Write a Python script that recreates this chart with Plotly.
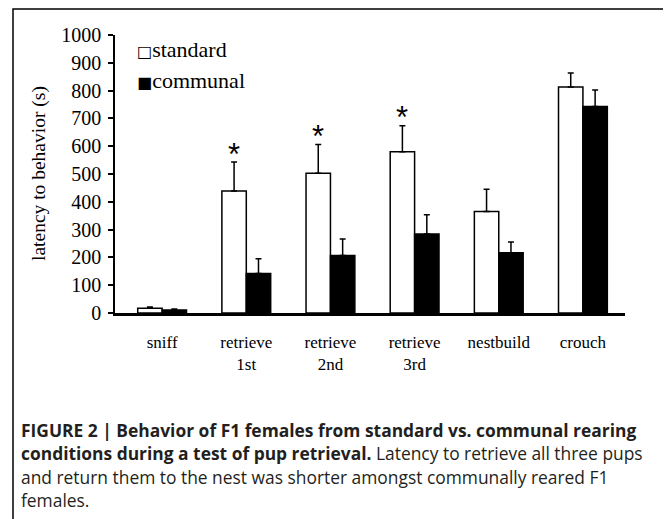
import plotly.graph_objects as go

categories = ["sniff", "retrieve<br>1st", "retrieve<br>2nd", "retrieve<br>3rd", "nestbuild", "crouch"]
standard = [17, 439, 503, 580, 365, 813]
standard_err = [5, 104, 103, 94, 80, 50]
communal = [11, 142, 207, 284, 217, 743]
communal_err = [3, 53, 59, 69, 38, 59]
significant = [False, True, True, True, False, False]
y_ticks = [0, 100, 200, 300, 400, 500, 600, 700, 800, 900, 1000]
series_names = ["standard", "communal"]
legend_glyphs = ["\u25a1", "\u25a0"]

caption_lines = [
    "<b>FIGURE 2 | Behavior of F1 females from standard vs. communal rearing</b>",
    "<b>conditions during a test of pup retrieval.</b> Latency to retrieve all three pups",
    "and return them to the nest was shorter amongst communally reared F1",
    "females.",
]

# page has an 8px body margin, so the figure is drawn at (8, 8) in the window
OFF = 8
W, H = 671 - OFF, 519 - OFF
L, R, T, B = 115 - OFF, 46, 35 - OFF, 206
PW, PH = W - L - R, H - T - B


def px_x(x):  # window pixel -> paper coordinate
    return (x - OFF - L) / PW


def px_y(y):
    return (H - B - (y - OFF)) / PH


serif = "Liberation Serif, Times New Roman, serif"
xs = list(range(len(categories)))

fig = go.Figure()
fig.add_trace(go.Bar(
    x=xs, y=standard, name=series_names[0],
    marker=dict(color="white", line=dict(color="black", width=1.5)),
    error_y=dict(type="data", array=standard_err, arrayminus=[0] * len(xs), symmetric=False,
                 color="black", thickness=1.5, width=3),
))
fig.add_trace(go.Bar(
    x=xs, y=communal, name=series_names[1],
    marker=dict(color="black", line=dict(color="black", width=1.5)),
    error_y=dict(type="data", array=communal_err, arrayminus=[0] * len(xs), symmetric=False,
                 color="black", thickness=1.5, width=3),
))

bargap = 0.42
annotations = []
for i, sig in enumerate(significant):
    if sig:
        annotations.append(dict(
            x=i - (1 - bargap) / 4, y=standard[i] + standard_err[i], xref="x", yref="y",
            text="*", showarrow=False, yanchor="middle", yshift=8,
            font=dict(family="Liberation Sans, Arial, sans-serif", size=31, color="black"),
        ))

# legend drawn as text, like the original
for name, glyph, yy in zip(series_names, legend_glyphs, [49, 80]):
    annotations.append(dict(
        x=px_x(135), y=px_y(yy), xref="paper", yref="paper",
        text='<span style="font-family:DejaVu Sans;font-size:16px">' + glyph + "</span>" + name,
        showarrow=False, xanchor="left", yanchor="middle",
        font=dict(family=serif, size=22, color="black"),
    ))

annotations.append(dict(
    x=px_x(39), y=0.5, xref="paper", yref="paper", text="latency to behavior (s)",
    textangle=-90, showarrow=False, xanchor="center", yanchor="middle",
    font=dict(family=serif, size=19.5, color="black"),
))

cap_y = [430, 453, 477, 500]
for line, yy in zip(caption_lines, cap_y):
    annotations.append(dict(
        x=px_x(19), y=px_y(yy), xref="paper", yref="paper", text=line,
        showarrow=False, xanchor="left", yanchor="middle", align="left",
        font=dict(family="Open Sans, Roboto, sans-serif", size=17.4, color="#231f20"),
    ))

shapes = [dict(
    type="rect", xref="paper", yref="paper",
    x0=px_x(13), x1=px_x(668), y0=px_y(540), y1=px_y(9),
    line=dict(color="black", width=1.5), fillcolor="rgba(0,0,0,0)", layer="below",
)]

fig.update_layout(
    width=W, height=H,
    margin=dict(l=L, r=R, t=T, b=B),
    paper_bgcolor="white", plot_bgcolor="white",
    barmode="group", bargap=bargap, bargroupgap=0,
    showlegend=False,
    annotations=annotations,
    shapes=shapes,
    xaxis=dict(
        range=[-0.56, 5.5], tickmode="array", tickvals=xs, ticktext=categories,
        showline=True, linecolor="black", linewidth=2.5, ticks="outside", ticklen=12,
        tickcolor="rgba(0,0,0,0)", showgrid=False, zeroline=False,
        tickfont=dict(family=serif, size=17, color="black"),
    ),
    yaxis=dict(
        range=[0, 1000], tickmode="array", tickvals=y_ticks,
        showline=True, linecolor="black", linewidth=1.5, ticks="outside", ticklen=5,
        tickwidth=1.5, tickcolor="black", showgrid=False, zeroline=False,
        ticklabelstandoff=3,
        tickfont=dict(family=serif, size=20, color="black"),
    ),
)

fig.write_html("out.html")
